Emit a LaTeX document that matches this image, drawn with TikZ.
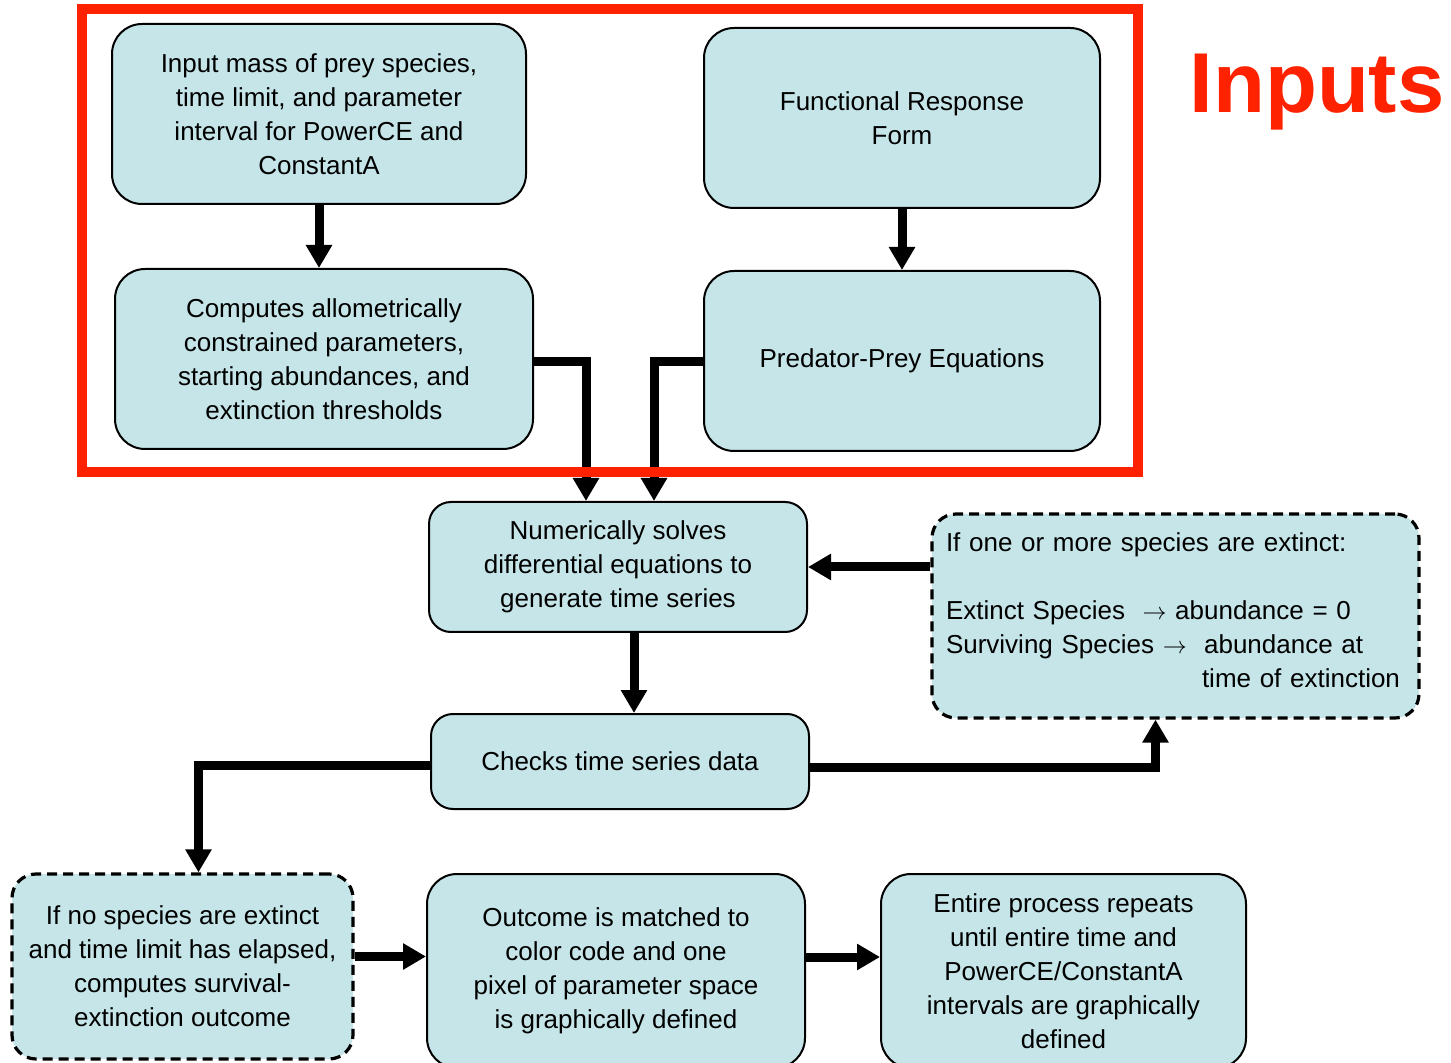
\documentclass[tikz,border=0pt]{standalone}
\usepackage{fontspec}
\setmainfont{Liberation Sans}
\usepackage{amsmath,amssymb}
\usepackage{xcolor}
\definecolor{pdfill}{HTML}{C5E5E8}
\definecolor{pdred}{HTML}{FF2200}
\usepackage{tikz}
\usetikzlibrary{arrows.meta,positioning,calc}
\tikzset{
  pdbox/.style={draw,line width=1pt,rounded corners=15pt,fill=pdfill,inner sep=4pt,align=center,font=\fontsize{13pt}{17pt}\selectfont},
  pdsmall/.style={pdbox,rounded corners=11pt},
  pddash/.style={pdbox,rounded corners=12pt,line width=1.6pt,dash pattern=on 5pt off 3pt},
  pdflow/.style={-{Triangle[length=11.5pt,width=12.5pt]},line width=4.5pt},
  pdframe/.style={draw=pdred,line width=5pt},
  pdtitle/.style={text=pdred,font=\fontsize{42.5pt}{48pt}\selectfont\bfseries,inner sep=0pt},
}

\begin{document}
\begin{tikzpicture}[x=0.5pt,y=-0.5pt]
\useasboundingbox (0,0) rectangle (1451,1063);
\node[pdtitle,anchor=base] (lbl) at (1317,113) {Inputs};
\node[pdbox,minimum width=207pt,minimum height=90pt] (in) at (319,114) {Input mass of prey species,\\time limit, and parameter\\interval for PowerCE and\\ConstantA};
\node[pdbox,minimum width=198pt,minimum height=90pt] (fr) at (902,118) {Functional Response\\Form};
\node[pdbox,minimum width=209pt,minimum height=90pt] (cp) at (324,359) {Computes allometrically\\constrained parameters,\\starting abundances, and\\extinction thresholds};
\node[pdbox,minimum width=198pt,minimum height=90pt] (pp) at (902,361) {Predator-Prey Equations};
\node[pdsmall,minimum width=189pt,minimum height=65pt] (ns) at (618,567) {Numerically solves\\differential equations to\\generate time series};
\node[pddash,align=left,text width=229.5pt,inner sep=7pt,minimum width=243.5pt,minimum height=102pt] (ex) at (1175.5,616) {If one or more species are extinct:\\[17pt]Extinct Species \ $\rightarrow$ abundance = 0\\Surviving Species $\rightarrow$ \ abundance at\\\hspace*{128pt}time of extinction\rule[-6pt]{0pt}{6pt}};
\node[pdsmall,minimum width=189pt,minimum height=47.5pt] (ck) at (620,761.5) {Checks time series data};
\node[pddash,minimum width=170.5pt,minimum height=92.5pt] (nx) at (182.5,966.5) {If no species are extinct\\and time limit has elapsed,\\computes survival-\\extinction outcome};
\node[pdbox,minimum width=189pt,minimum height=97pt] (oc) at (616,971) {Outcome is matched to\\color code and one\\pixel of parameter space\\is graphically defined};
\node[pdbox,minimum width=182.5pt,minimum height=97pt] (rp) at (1063.5,971) {Entire process repeats\\until entire time and\\PowerCE/ConstantA\\intervals are graphically\\defined};
\draw[pdflow] (in.south) -- (in.south |- cp.north);
\draw[pdflow] (fr.south) -- (pp.north);
\draw[pdflow] ([yshift=-1.5pt]cp.east) -| ([xshift=-16pt]ns.north);
\draw[pdflow] ([yshift=-0.5pt]pp.west) -| ([xshift=18pt]ns.north);
\draw[pdflow] (ns.east -| ex.west) -- (ns.east);
\draw[pdflow] ([xshift=8pt]ns.south) -- ([xshift=8pt]ns.south |- ck.north);
\draw[pdflow] ([yshift=-3pt]ck.east) -| ([xshift=-10pt]ex.south);
\draw[pdflow] ([yshift=-2pt]ck.west) -| ([xshift=8pt]nx.north);
\draw[pdflow] ([yshift=5pt]nx.east) -- ([yshift=5pt]nx.east -| oc.west);
\draw[pdflow] ([yshift=7pt]oc.east) -- ([yshift=7pt]oc.east -| rp.west);
% frame round the input stage
\draw[pdframe] (82,9) rectangle (1138,472);
\end{tikzpicture}
\end{document}
